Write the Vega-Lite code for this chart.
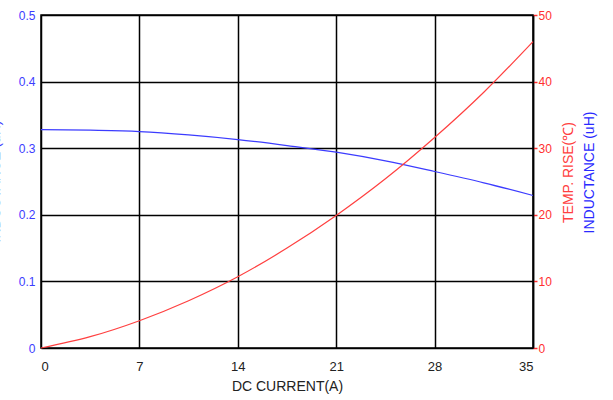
{
  "$schema": "https://vega.github.io/schema/vega-lite/v6.json",
  "width": 492,
  "height": 333,
  "autosize": {"type": "none"},
  "padding": {"left": 41, "top": 15, "right": 80, "bottom": 52},
  "background": "white",
  "config": {
    "font": "Liberation Sans",
    "view": {"stroke": "black", "strokeWidth": 1.5},
    "axis": {"labelFont": "Liberation Sans", "titleFont": "Liberation Sans", "titleFontWeight": "normal", "gridColor": "black", "gridOpacity": 1, "gridWidth": 1.5, "domainColor": "black", "domainWidth": 1.5}
  },
  "data": {"values": [
    {"current": 0, "ind": 0.328, "temp": 0},
    {"current": 3.5, "ind": 0.327, "temp": 1.7},
    {"current": 7, "ind": 0.325, "temp": 4.1},
    {"current": 10.5, "ind": 0.32, "temp": 7.1},
    {"current": 14, "ind": 0.313, "temp": 10.7},
    {"current": 17.5, "ind": 0.304, "temp": 15.0},
    {"current": 21, "ind": 0.294, "temp": 19.9},
    {"current": 24.5, "ind": 0.281, "temp": 25.4},
    {"current": 28, "ind": 0.265, "temp": 31.6},
    {"current": 31.5, "ind": 0.248, "temp": 38.4},
    {"current": 35, "ind": 0.229, "temp": 46.0}
  ]},
  "encoding": {
    "x": {
      "field": "current", "type": "quantitative",
      "scale": {"domain": [0, 35], "nice": false, "zero": false},
      "axis": {"values": [0, 7, 14, 21, 28, 35], "grid": true, "ticks": false, "domain": false, "labelFontSize": 13, "labelColor": "#222222", "labelPadding": 12, "title": "DC CURRENT(A)", "titleFontSize": 14, "titleColor": "#222222", "titlePadding": 6}
    }
  },
  "layer": [
    {
      "mark": {"type": "line", "color": "#3c3cff", "strokeWidth": 1.2, "interpolate": "monotone"},
      "encoding": {
        "y": {
          "field": "ind", "type": "quantitative",
          "scale": {"domain": [0, 0.5], "nice": false},
          "axis": {"orient": "left", "values": [0, 0.1, 0.2, 0.3, 0.4, 0.5], "format": ".1~f", "grid": true, "ticks": false, "domain": false, "labelColor": "#3c3cff", "labelFontSize": 12, "labelPadding": 6, "title": "INDUCTANCE (uH)", "titleColor": "#3c3cff", "titleFontSize": 14, "titleAngle": -90, "titleAlign": "center", "titleBaseline": "middle", "titleX": -46, "titleY": 166}
        }
      }
    },
    {
      "mark": {"type": "line", "color": "#ff4040", "strokeWidth": 1.2, "interpolate": "monotone"},
      "encoding": {
        "y": {
          "field": "temp", "type": "quantitative",
          "scale": {"domain": [0, 50], "nice": false},
          "axis": {"orient": "right", "values": [0, 10, 20, 30, 40, 50], "grid": false, "tickColor": "#ff3030", "tickSize": 4, "tickWidth": 1.5, "labelColor": "#ff3030", "labelFontSize": 12, "labelPadding": 1, "title": "TEMP. RISE(℃)", "titleColor": "#ff4040", "titleFontSize": 14, "titleAngle": -90, "titleAlign": "center", "titleBaseline": "middle", "titleX": 35, "titleY": 157}
        }
      }
    },
    {
      "mark": {"type": "line", "opacity": 0},
      "encoding": {
        "y": {
          "field": "ind", "type": "quantitative",
          "scale": {"domain": [0, 0.5], "nice": false},
          "axis": {"orient": "right", "labels": false, "ticks": false, "domain": false, "grid": false, "title": "INDUCTANCE (uH)", "titleColor": "#2a2aff", "titleFontSize": 14, "titleAngle": -90, "titleAlign": "center", "titleBaseline": "middle", "titleX": 56, "titleY": 157}
        }
      }
    }
  ],
  "resolve": {"scale": {"y": "independent"}, "axis": {"y": "independent"}}
}
